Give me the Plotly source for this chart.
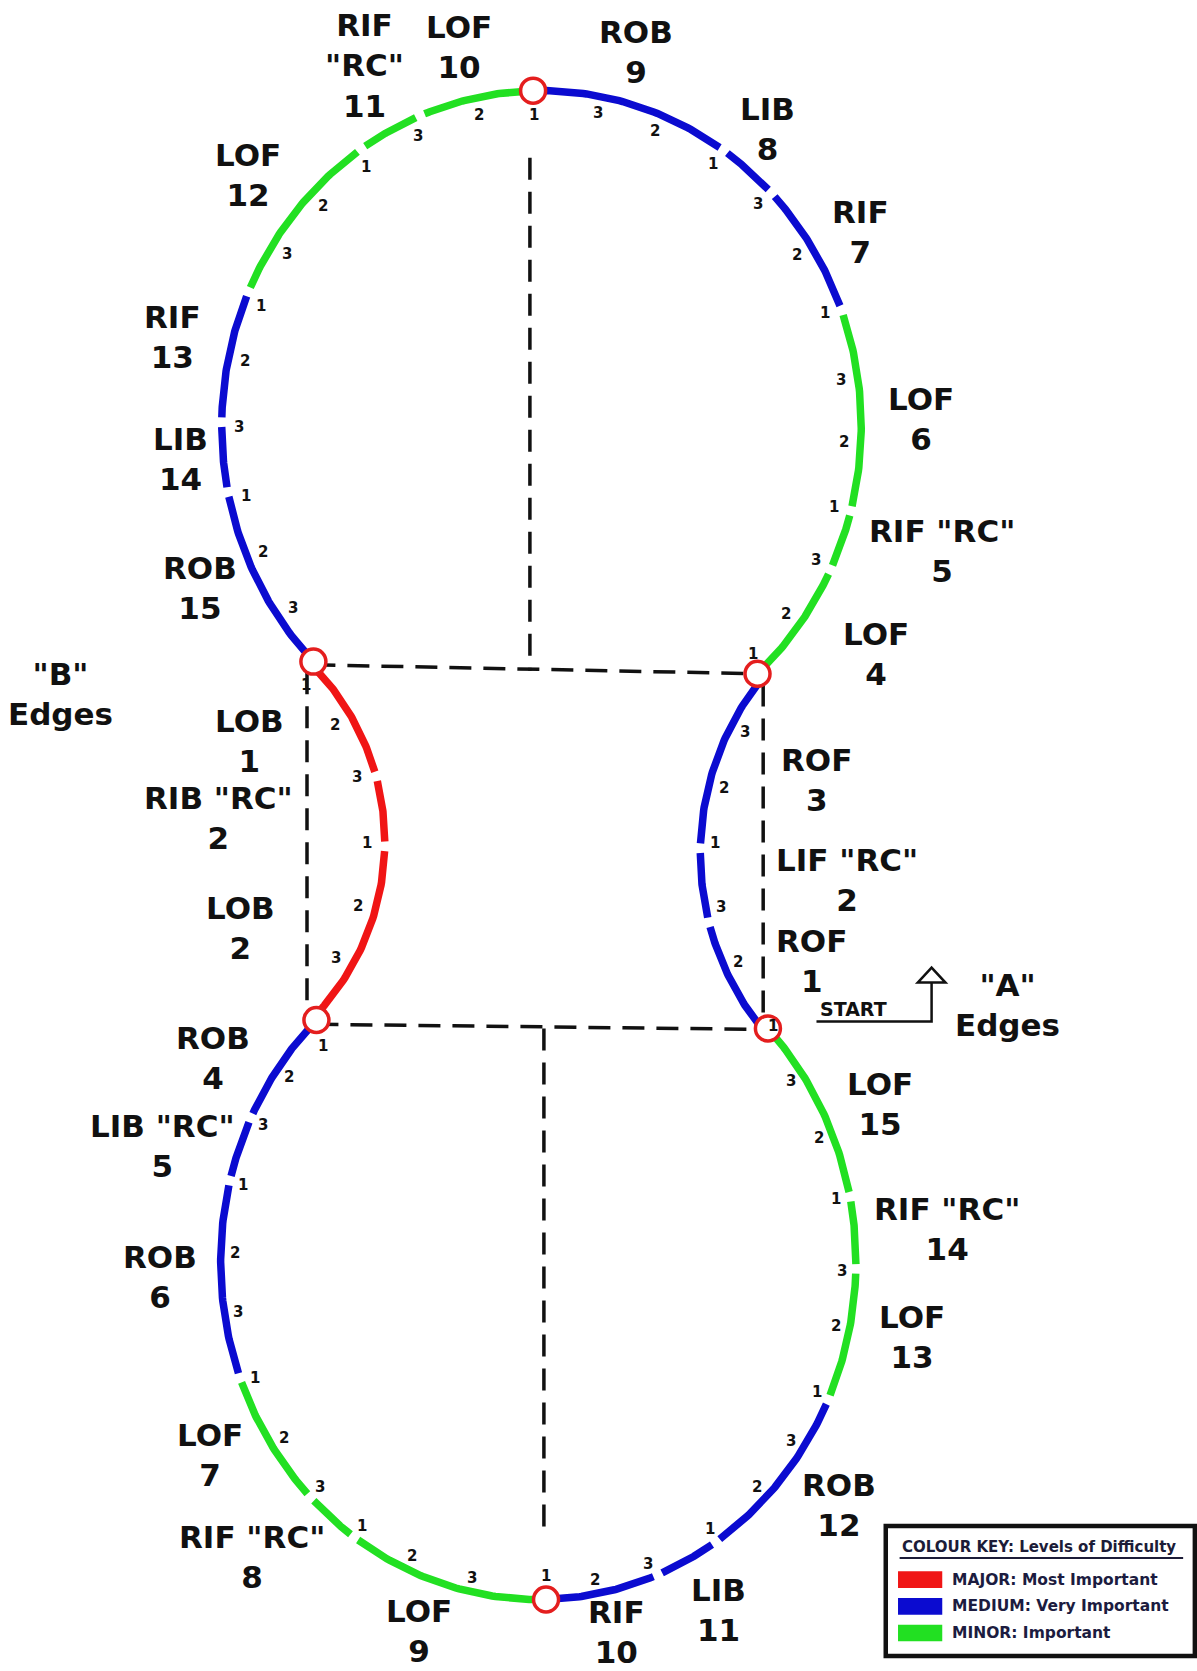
import numpy as np
import plotly.graph_objects as go

# ------------------------------------------------------------------ data
LEVELS = ["MAJOR", "MEDIUM", "MINOR"]
LEVEL_TEXT = ["MAJOR: Most Important", "MEDIUM: Very Important", "MINOR: Important"]
LEVEL_COLORS = ["#f01515", "#0b0bd0", "#22e022"]
KEY_TITLE = "COLOUR KEY: Levels of Difficulty"

# arcs of the pattern (angle in degrees along each arc)
# top lobe - right half (from upper "A" node to top node)
top_r_edges = ['LOF 4', 'RIF "RC" 5', 'LOF 6', 'RIF 7', 'LIB 8', 'ROB 9']
top_r_level = ["MINOR", "MINOR", "MINOR", "MEDIUM", "MEDIUM", "MEDIUM"]
top_r_breaks = [47.5, 25.3, 14.6, -20.2, -44.0, -55.3, -91.5]
# top lobe - left half (from top node to upper "B" node)
top_l_edges = ['LOF 10', 'RIF "RC" 11', 'LOF 12', 'RIF 13', 'LIB 14', 'ROB 15']
top_l_level = ["MINOR", "MINOR", "MINOR", "MEDIUM", "MEDIUM", "MEDIUM"]
top_l_breaks = [268.5, 247.7, 235.7, 203.6, 180.7, 168.7, 135.5]
# "B" edges (red arc)
b_edges = ['LOB 1', 'RIB "RC" 2', 'LOB 2']
b_level = ["MAJOR", "MAJOR", "MAJOR"]
b_breaks = [-44.4, -15.1, 1.0, 44.1]
# "A" edges (right middle arc)
a_edges = ['ROF 1', 'LIF "RC" 2', 'ROF 3']
a_level = ["MEDIUM", "MEDIUM", "MEDIUM"]
a_breaks = [140.7, 165.8, 181.1, 218.6]
# bottom lobe - left half
bot_l_edges = ['ROB 4', 'LIB "RC" 5', 'ROB 6', 'LOF 7', 'RIF "RC" 8', 'LOF 9']
bot_l_level = ["MEDIUM", "MEDIUM", "MEDIUM", "MINOR", "MINOR", "MINOR"]
bot_l_breaks = [225.7, 205.2, 193.9, 159.9, 135.8, 125.4, 88.6]
# bottom lobe - right half
bot_r_edges = ['RIF 10', 'LIB 11', 'ROB 12', 'LOF 13', 'RIF "RC" 14', 'LOF 15']
bot_r_level = ["MEDIUM", "MEDIUM", "MEDIUM", "MINOR", "MINOR", "MINOR"]
bot_r_breaks = [88.6, 67.9, 56.0, 24.1, 1.2, -11.1, -43.7]

# beat counts along the arcs
top_count_ang = [45.7, 36.2, 24.9, 14.7, 2.9, -8.4, -20.8, -32.5, -44.3, -55.6, -68.0, -79.2,
                 268.5, 258.1, 245.9, 234.6, 223.8, 212.9, 202.3, 191.8, 179.8, 167.4, 156.7, 145.2]
top_count_txt = ["1", "2", "3"] * 8
b_count_ang = [-42.4, -30.2, -16.2, 0.3, 15.9, 29.7]
b_count_txt = ["1", "2", "3", "1", "2", "3"]
a_count_ang = [140.2, 156.0, 168.5, 182.3, 194.4, 207.4]
a_count_txt = ["1", "2", "3", "1", "2", "3"]
bot_count_ang = [223.4, 214.8, 205.0, 193.8, 181.6, 171.0, 159.0, 146.9, 135.9, 125.3, 114.6, 102.6,
                 88.6, 79.3, 68.8, 55.6, 44.0, 33.7, 23.7, 11.4, 1.6, -11.2, -22.6, -33.9]
bot_count_txt = ["1", "2", "3"] * 8

# edge name labels
name_text = ['RIF<br>"RC"<br>11', 'LOF<br>10', 'ROB<br>9', 'LIB<br>8', 'RIF<br>7', 'LOF<br>6',
             'RIF "RC"<br>5', 'LOF<br>4', 'LOF<br>12', 'RIF<br>13', 'LIB<br>14', 'ROB<br>15',
             '"B"<br>Edges', 'LOB<br>1', 'RIB "RC"<br>2', 'LOB<br>2', 'ROF<br>3', 'LIF "RC"<br>2',
             'ROF<br>1', '"A"<br>Edges', 'ROB<br>4', 'LIB "RC"<br>5', 'ROB<br>6', 'LOF<br>7',
             'RIF "RC"<br>8', 'LOF<br>9', 'RIF<br>10', 'LIB<br>11', 'ROB<br>12', 'LOF<br>13',
             'RIF "RC"<br>14', 'LOF<br>15']
name_x = [342, 431, 597, 720, 807, 864, 884, 822, 233, 162, 169, 188, 57, 234, 205, 226,
          766, 795, 761, 945, 200, 152, 150, 197, 236, 393, 578, 674, 787, 856, 888, 826]
name_y = [61, 44, 49, 121, 218, 393, 517, 614, 164, 316, 431, 552, 651, 695, 768, 871,
          732, 826, 902, 943, 993, 1075, 1198, 1365, 1461, 1530, 1531, 1511, 1412, 1255, 1153, 1036]

# ------------------------------------------------------------ geometry
W, H = 1197, 1671          # output pixels
XR, YR = 1123, 1568        # drawing units
TOP = (508, 400, 300, 315)  # cx, cy, rx, ry
BOT = (505, 1184, 298, 317)
BARC = (125, 790, 236, 236)
AARC = (920, 801, 263, 263)
GAP = 9.0
LW = 7.5


def pt(arc, ang, d=0.0):
    cx, cy, rx, ry = arc
    t = np.radians(ang)
    c, s = np.cos(t), np.sin(t)
    r = np.hypot(rx * c, ry * s)
    k = 1 - d / r
    return cx + k * rx * c, cy + k * ry * s


def local_r(arc, ang):
    cx, cy, rx, ry = arc
    t = np.radians(ang)
    return np.hypot(rx * np.sin(t), ry * np.cos(t))


fig = go.Figure()
level_color = dict(zip(LEVELS, LEVEL_COLORS))

pieces = [
    (TOP, top_r_edges, top_r_level, top_r_breaks),
    (TOP, top_l_edges, top_l_level, top_l_breaks),
    (BARC, b_edges, b_level, b_breaks),
    (AARC, a_edges, a_level, a_breaks),
    (BOT, bot_l_edges, bot_l_level, bot_l_breaks),
    (BOT, bot_r_edges, bot_r_level, bot_r_breaks),
]

# dashed guide lines (drawn first, under the tracing)
T = pt(TOP, top_r_breaks[-1])
AU = pt(TOP, top_r_breaks[0])
BU = pt(TOP, top_l_breaks[-1])
BL = pt(BOT, bot_l_breaks[0])
AL = pt(BOT, bot_r_breaks[-1])
BN = pt(BOT, bot_l_breaks[-1])


def yline(p, q, x):
    return p[1] + (q[1] - p[1]) * (x - p[0]) / (q[0] - p[0])


guides = [
    ([BU[0], AU[0]], [BU[1] + 3, AU[1]]),
    ([BL[0], AL[0]], [BL[1] + 4, AL[1] + 1]),
    ([BU[0] - 6, BU[0] - 6], [BU[1] + 10, BL[1]]),
    ([716, 716], [AU[1] + 10, AL[1]]),
    ([T[0] - 3, T[0] - 3], [T[1] + 63, yline(BU, AU, T[0]) + 3]),
    ([BN[0] - 2, BN[0] - 2], [yline(BL, AL, BN[0]) + 4, BN[1] - 60]),
]
for gx, gy in guides:
    fig.add_trace(go.Scatter(x=gx, y=gy, mode="lines", hoverinfo="skip", showlegend=False,
                             line=dict(color="#111111", width=3.5, dash="22px,12px")))

# coloured edges
for arc, edges, levels, br in pieces:
    n = len(edges)
    for i in range(n):
        a0, a1 = br[i], br[i + 1]
        sgn = np.sign(a1 - a0)
        if i > 0:
            a0 += sgn * np.degrees(GAP / 2 / local_r(arc, a0))
        if i < n - 1:
            a1 -= sgn * np.degrees(GAP / 2 / local_r(arc, a1))
        angs = np.linspace(a0, a1, 60)
        xs, ys = pt(arc, angs)
        fig.add_trace(go.Scatter(x=xs, y=ys, mode="lines", name=edges[i], showlegend=False,
                                 line=dict(color=level_color[levels[i]], width=LW)))

# nodes
nodes = [T, AU, BU, BL, AL, BN]
fig.add_trace(go.Scatter(x=[p[0] for p in nodes], y=[p[1] for p in nodes], mode="markers",
                         showlegend=False, hoverinfo="skip",
                         marker=dict(size=25, color="white", line=dict(color="#e41e1e", width=3.5))))

ann = []
FONT = "DejaVu Sans"


def count_labels(arc, angs, txts, d, special=None):
    for j, (a, t) in enumerate(zip(angs, txts)):
        dd = special.get(j, d) if special else d
        x, y = pt(arc, a, dd)
        ann.append(dict(x=x, y=y, text="<b>%s</b>" % t, showarrow=False,
                        font=dict(family=FONT, size=15, color="#111111"),
                        xanchor="center", yanchor="middle"))


count_labels(TOP, top_count_ang, top_count_txt, 16, {12: 23})
count_labels(BARC, b_count_ang, b_count_txt, 17)
count_labels(AARC, a_count_ang, a_count_txt, 14, {0: 10})
count_labels(BOT, bot_count_ang, bot_count_txt, 13, {0: 21, 12: 22})

for t, x, y in zip(name_text, name_x, name_y):
    ann.append(dict(x=x, y=y, text="<b>%s</b>" % t, showarrow=False, align="center",
                    font=dict(family=FONT, size=31, color="#111111"),
                    xanchor="center", yanchor="middle"))

# START marker
ann.append(dict(x=801, y=947, text="<b>START</b>", showarrow=False,
                font=dict(family=FONT, size=19, color="#111111"),
                xanchor="center", yanchor="middle"))
shapes = [
    dict(type="path", path="M 766,958.5 L 874,958.5 L 874,922", line=dict(color="#111111", width=2.5)),
    dict(type="path", path="M 861,922 L 874,908 L 887,922 Z", fillcolor="white",
         line=dict(color="#111111", width=2.5)),
]

# colour key box
shapes.append(dict(type="rect", x0=831, x1=1121, y0=1432, y1=1554, fillcolor="white",
                   line=dict(color="#111111", width=4.5)))
ann.append(dict(x=844, y=1452, text="<b>%s</b>" % KEY_TITLE, showarrow=False,
                font=dict(family=FONT, size=15, color="#1c1c38"), xanchor="left", yanchor="middle"))
shapes.append(dict(type="line", x0=844, x1=1110, y0=1462, y1=1462, line=dict(color="#1c1c38", width=2)))
for i, (lt, lc) in enumerate(zip(LEVEL_TEXT, LEVEL_COLORS)):
    yc = 1482.3 + 25 * i
    shapes.append(dict(type="rect", x0=842.5, x1=884, y0=yc - 7.8, y1=yc + 7.8, fillcolor=lc,
                       line=dict(width=0)))
    ann.append(dict(x=891, y=yc, text="<b>%s</b>" % lt, showarrow=False,
                    font=dict(family=FONT, size=15.5, color="#1c1c40"), xanchor="left", yanchor="middle"))

for s in shapes:
    s.setdefault("xref", "x")
    s.setdefault("yref", "y")
    s["layer"] = "above"

fig.update_layout(width=W, height=H, margin=dict(l=0, r=0, t=0, b=0),
                  paper_bgcolor="white", plot_bgcolor="white",
                  annotations=ann, shapes=shapes, showlegend=False)
fig.update_xaxes(range=[0, XR], visible=False, showgrid=False, zeroline=False)
fig.update_yaxes(range=[YR, 0], visible=False, showgrid=False, zeroline=False)
fig.write_html("out.html", config={"displayModeBar": False},
               post_script="document.body.style.margin='0';document.body.style.padding='0';")
